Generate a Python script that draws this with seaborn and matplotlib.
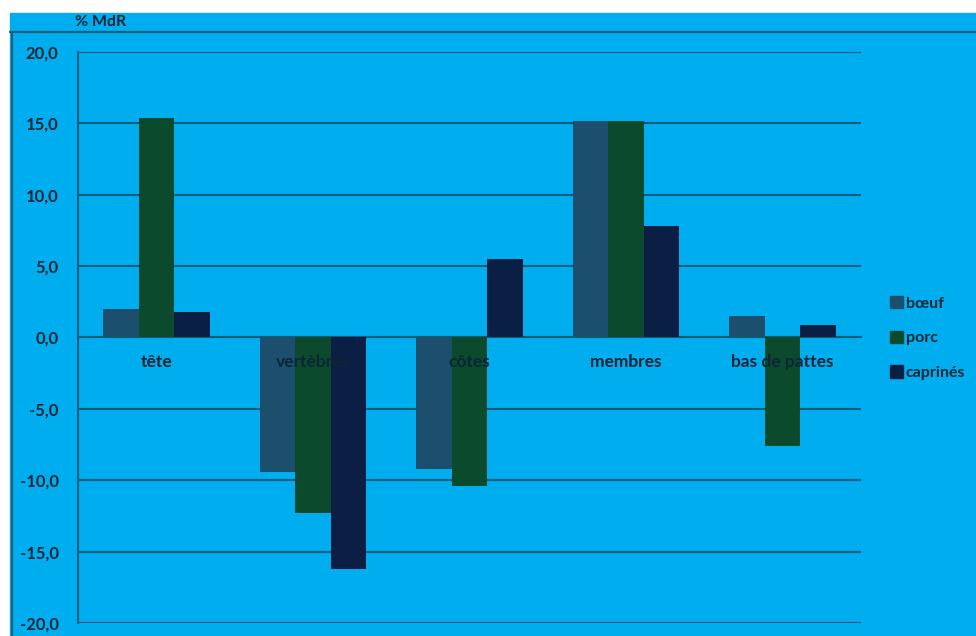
import pandas as pd
import numpy as np
import matplotlib
matplotlib.use("Agg")
import matplotlib.pyplot as plt
import seaborn as sns
from matplotlib.patches import Rectangle
from matplotlib.lines import Line2D
from matplotlib.ticker import FixedLocator

# --- DATA ---
categories = ["tête", "vertèbres", "côtes", "membres", "bas de pattes"]
series = ["bœuf", "porc", "caprinés"]
boeuf = [2.0, -9.4, -9.2, 15.2, 1.5]
porc = [15.4, -12.3, -10.4, 15.2, -7.6]
caprines = [1.8, -16.2, 5.5, 7.8, 0.9]
yticks = [-20, -15, -10, -5, 0, 5, 10, 15, 20]

# --- STYLE ---
BG = "#00aeef"
GRID = "#0a5d7d"
TEXT = "#0c2636"
palette = {"bœuf": "#1b4f6d", "porc": "#0b4a2c", "caprinés": "#0b1f44"}

df = pd.DataFrame({
    "partie": categories * 3,
    "espece": [s for s in series for _ in categories],
    "valeur": boeuf + porc + caprines,
})

sns.set_style("white")
plt.rcParams["font.family"] = ["Lato", "DejaVu Sans"]

fig = plt.figure(figsize=(9.76, 6.36), dpi=100, facecolor="white")
W, H = 976, 636

# blue panel + frame lines (behind the axes)
fig.patches.append(Rectangle((10 / W, 0), 1 - 10 / W, 1 - 13 / H,
                             transform=fig.transFigure, color=BG, zorder=-10))
fig.lines.append(Line2D([10 / W, 1], [1 - 32 / H, 1 - 32 / H], transform=fig.transFigure,
                        color=GRID, lw=1.6, zorder=-5))
fig.lines.append(Line2D([11.5 / W, 11.5 / W], [0, 1 - 32 / H], transform=fig.transFigure,
                        color=GRID, lw=1.6, zorder=-5))

ax = fig.add_axes([78 / W, 1 - 623 / H, (861 - 78) / W, (623 - 52) / H])
ax.patch.set_alpha(0)

sns.barplot(data=df, x="partie", y="valeur", hue="espece", palette=palette,
            order=categories, hue_order=series, width=0.68, gap=0, saturation=1,
            linewidth=0, ax=ax, legend=False, zorder=3)

ax.set_xlim(-0.5, len(categories) - 0.5)
ax.set_ylim(-20, 20)
ax.set_yticks(yticks)
ax.set_yticklabels([f"{v:.1f}".replace(".", ",") for v in yticks],
                   fontsize=12, fontweight="bold", color=TEXT)
ax.yaxis.grid(True, color=GRID, lw=1.5, zorder=1)
ax.set_axisbelow(True)
ax.tick_params(axis="y", length=5, width=1.3, color=GRID, pad=9)

for s in ["top", "right"]:
    ax.spines[s].set_visible(False)
ax.spines["left"].set_color(GRID)
ax.spines["left"].set_linewidth(1.5)
ax.spines["bottom"].set_position(("data", 0))
ax.spines["bottom"].set_color(GRID)
ax.spines["bottom"].set_linewidth(1.5)

# category labels drawn as text so they sit on top of the bars
ax.set_xticks(range(len(categories)))
ax.set_xticklabels([])
ax.tick_params(axis="x", which="major", length=0)
ax.xaxis.set_minor_locator(FixedLocator(np.arange(0.5, len(categories) - 0.5, 1)))
ax.tick_params(axis="x", which="minor", length=4, width=1.2, color=GRID, direction="out")
for i, c in enumerate(categories):
    ax.annotate(c, (i, 0), xytext=(0, -17.5), textcoords="offset points",
                ha="center", va="center", fontsize=12.5, fontweight="bold",
                color=TEXT, zorder=10)
ax.set_xlabel("")
ax.set_ylabel("")

fig.text(75 / W, 1 - 22 / H, "% MdR", fontsize=11.5, fontweight="bold",
         color=TEXT, va="center", ha="left")

handles = [Rectangle((0, 0), 1, 1, color=palette[s]) for s in series]
fig.legend(handles, series, loc="center left", bbox_to_anchor=(890 / W, 1 - 338 / H),
           frameon=False, borderpad=0, borderaxespad=0, handlelength=0.8, handleheight=0.8,
           handletextpad=0.2, labelspacing=1.25, labelcolor=TEXT,
           prop={"family": ["Lato", "DejaVu Sans"], "size": 11.5, "weight": "bold"})

fig.savefig("out.png", dpi=100, facecolor="white")
